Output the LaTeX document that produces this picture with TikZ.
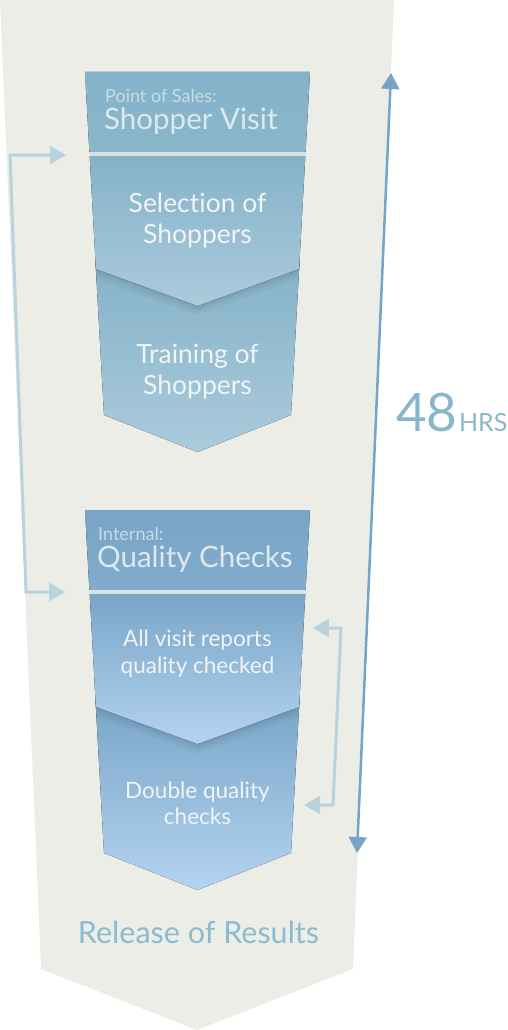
\documentclass[tikz,border=0pt]{standalone}
\usepackage{fontspec}
\setmainfont{Lato}[Ligatures={NoCommon}]
\usetikzlibrary{arrows.meta}
\definecolor{bgc}{HTML}{EDEDE8}
\definecolor{sepc}{HTML}{DCE2E0}
\definecolor{aH}{HTML}{85B3C9}
\definecolor{aHb}{HTML}{8AB6CB}
\definecolor{aT}{HTML}{85B2C8}
\definecolor{aB}{HTML}{ABCBDC}
\definecolor{bH}{HTML}{78A4C6}
\definecolor{bHb}{HTML}{82ACCC}
\definecolor{bT}{HTML}{79A5C7}
\definecolor{bB}{HTML}{B4D3F0}
\definecolor{smallc}{HTML}{C6DCE6}
\definecolor{titlec}{HTML}{DDE9EE}
\definecolor{bodyc}{HTML}{F0F4F6}
\definecolor{relc}{HTML}{8BBBD0}
\definecolor{hrsc}{HTML}{8AB6CC}
\definecolor{linec}{HTML}{B8D3DD}
\definecolor{timec}{HTML}{76A4C8}
\tikzset{
  smalltxt/.style={anchor=base west,inner sep=0pt,text=smallc,font=\fontsize{18}{20}\selectfont},
  titletxt/.style={anchor=base west,inner sep=0pt,text=titlec,font=\fontsize{29.5}{32}\selectfont},
  bodytxt/.style={anchor=base,inner sep=0pt,text=bodyc,font=\fontsize{26.5}{28}\selectfont},
  bodytxtb/.style={anchor=base,inner sep=0pt,text=bodyc,font=\fontsize{22.5}{24}\selectfont},
  fbline/.style={draw=linec,line width=3pt,{Triangle[length=16pt,width=18pt]}-{Triangle[length=16pt,width=18pt]}},
  timeline/.style={draw=timec,line width=2.5pt,{Triangle[length=16pt,width=18pt]}-{Triangle[length=16pt,width=18pt]}},
}
\newcommand\funnelbox[6]{%
  \begin{scope}[shift={(0,#1)}]
    \fill[top color=#2,bottom color=#3] (85,0) -- (310,0) -- (305.6,80) -- (89.4,80) -- cycle;
    \fill[sepc] (89.4,80) -- (305.6,80) -- (305.3,84) -- (89.7,84) -- cycle;
    \fill[top color=#6,bottom color=#5] (95.5,190) -- (299.5,190) -- (291,343) -- (197.5,380) -- (104,343) -- cycle;
    \begin{scope}
      \clip (95.5,190) -- (299.5,190) -- (291,343) -- (197.5,380) -- (104,343) -- cycle;
      \fill[black,opacity=.035] (95.9,190) -- (299.1,190) -- (299.1,206) -- (197.5,243) -- (95.9,206) -- cycle;
      \fill[black,opacity=.035] (95.9,190) -- (299.1,190) -- (299.1,202) -- (197.5,239) -- (95.9,202) -- cycle;
      \fill[black,opacity=.04] (95.9,190) -- (299.1,190) -- (299.1,199) -- (197.5,236.5) -- (95.9,199) -- cycle;
    \end{scope}
    \fill[top color=#4,bottom color=#5] (89.7,84) -- (305.3,84) -- (299.1,197) -- (197.5,234) -- (95.9,197) -- cycle;
  \end{scope}}
\begin{document}
\begin{tikzpicture}[x=1pt,y=-1pt]
\useasboundingbox (0,0) rectangle (508,1030);
% background funnel
\fill[bgc] (0,0) -- (394,0) -- (353,969) -- (197,1030) -- (41,969) -- cycle;
% boxes
\funnelbox{72}{aH}{aHb}{aT}{aB}{aT}
\funnelbox{510}{bH}{bHb}{bT}{bB}{bT}
% texts box 1
\node[smalltxt] (pos) at (105,103) {Point of Sales:};
\node[titletxt] (sv) at (104,129) {Shopper Visit};
\node[bodytxt] (sel1) at (197.5,212) {Selection of};
\node[bodytxt] (sel2) at (197.5,243) {Shoppers};
\node[bodytxt] (tr1) at (197.5,363) {Training of};
\node[bodytxt] (tr2) at (197.5,394) {Shoppers};
% texts box 2
\node[smalltxt] (int) at (98,540) {Internal:};
\node[titletxt] (qc) at (97,567) {Quality Checks};
\node[bodytxtb] (av1) at (197.5,646) {All visit reports};
\node[bodytxtb] (av2) at (197.5,673) {quality checked};
\node[bodytxtb] (dq1) at (197.5,798) {Double quality};
\node[bodytxtb] (dq2) at (197.5,824) {checks};
% release
\node[anchor=base,inner sep=0pt,text=relc,font=\fontsize{30.5}{32}\selectfont] (rel) at (198.5,943) {Release of Results};
% 48 hrs
\node[anchor=base west,inner sep=0pt,text=hrsc,font=\fontsize{53}{55}\selectfont] (h48) at (396,431) {48};
\node[anchor=base west,inner sep=0pt,text=hrsc,font=\fontsize{25}{27}\selectfont] (hrs) at ([xshift=1pt]h48.base east) {HRS};
% connectors
\coordinate (in1) at (66,155);
\coordinate (in2) at (65,592);
\coordinate (lt) at (10,155);
\coordinate (lb) at (26,592);
\draw[fbline] (in1) -- (lt) -- (lb) -- (in2);
\coordinate (qin1) at (313,628);
\coordinate (qin2) at (304,805);
\coordinate (rt) at (341,628);
\coordinate (rb) at (333,805);
\draw[fbline] (qin1) -- (rt) -- (rb) -- (qin2);
\coordinate (ttop) at (391,73);
\coordinate (tbot) at (357,853);
\draw[timeline] (tbot) -- (ttop);
\end{tikzpicture}
\end{document}
